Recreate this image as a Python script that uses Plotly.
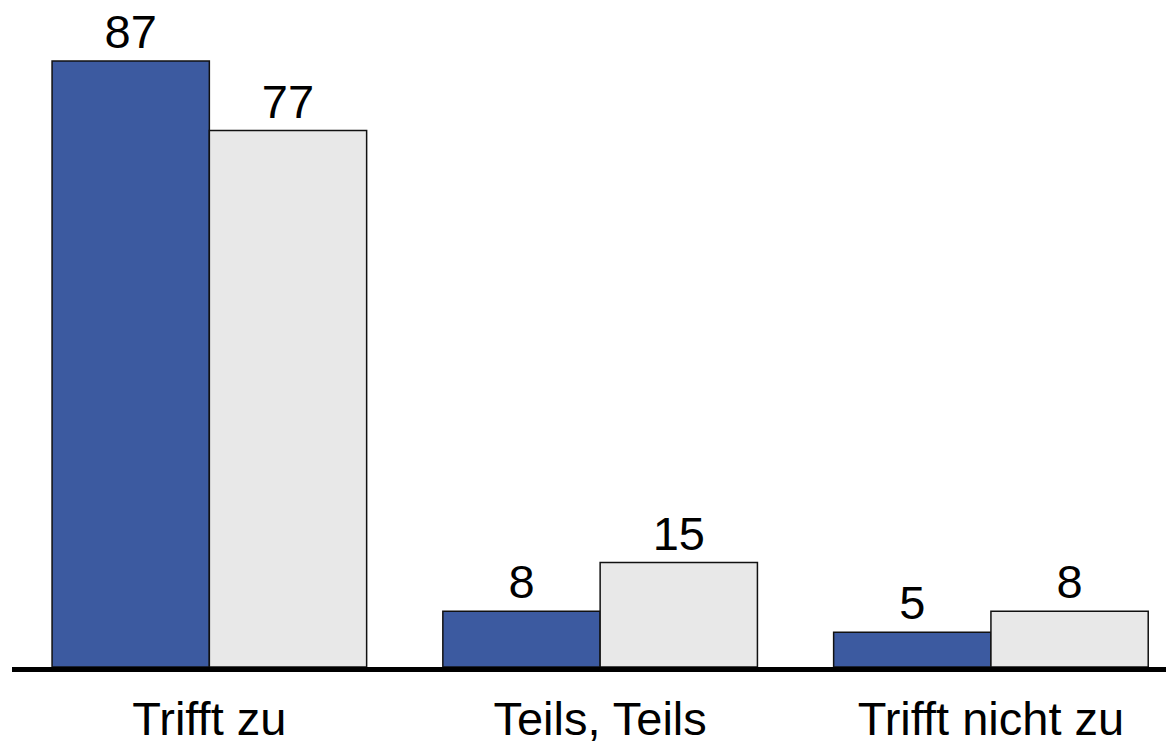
import plotly.graph_objects as go

categories = ["Trifft zu", "Teils, Teils", "Trifft nicht zu"]
series_a = [87, 8, 5]
series_b = [77, 15, 8]

FONT = "Liberation Sans, Arial, sans-serif"

fig = go.Figure()
fig.add_trace(go.Bar(
    x=categories, y=series_a,
    marker=dict(color="#3C5AA0", line=dict(color="#111111", width=1.5)),
    text=series_a, textposition="outside", cliponaxis=False,
    textfont=dict(size=47, color="black", family=FONT),
))
fig.add_trace(go.Bar(
    x=categories, y=series_b,
    marker=dict(color="#E8E8E8", line=dict(color="#111111", width=1.5)),
    text=series_b, textposition="outside", cliponaxis=False,
    textfont=dict(size=47, color="black", family=FONT),
))

fig.update_layout(
    width=1166, height=745,
    margin=dict(l=12, r=0, t=0, b=78, autoexpand=False),
    barmode="group", bargap=0.195, bargroupgap=0,
    showlegend=False,
    plot_bgcolor="white", paper_bgcolor="white",
    font=dict(family=FONT, size=47, color="black"),
)
fig.update_xaxes(
    range=[-0.505, 2.448],
    showline=True, linewidth=5, linecolor="black",
    showgrid=False, zeroline=False, automargin=False,
    ticks="outside", ticklen=7, tickcolor="rgba(0,0,0,0)",
    tickfont=dict(size=47, family=FONT, color="black"),
)
fig.update_yaxes(
    range=[0, 95.75], visible=False, showgrid=False, zeroline=False,
    automargin=False,
)

fig.write_html("out.html")
